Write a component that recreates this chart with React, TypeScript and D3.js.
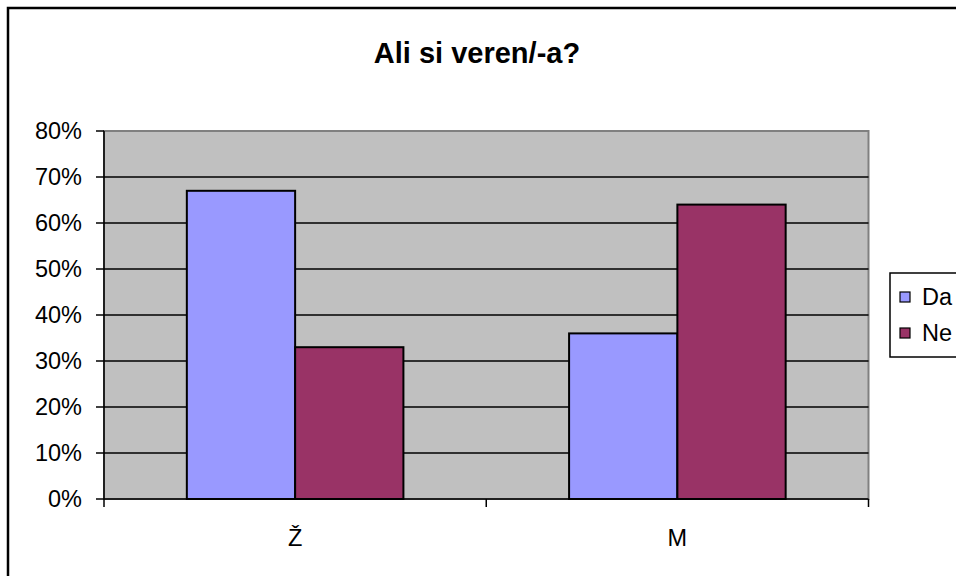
import React from "react";
import * as d3 from "d3";

const categories = ["Ž", "M"];
const seriesNames = ["Da", "Ne"];
const daValues = [0.67, 0.36];
const neValues = [0.33, 0.64];
const yTicks = [0, 0.1, 0.2, 0.3, 0.4, 0.5, 0.6, 0.7, 0.8];
const colors = ["#9999FF", "#993366"];
const title = "Ali si veren/-a?";

export default function App() {
  const W = 956, H = 576;
  const left = 104, right = 868.5, top = 131, bottom = 499;
  const y = d3.scaleLinear().domain([0, 0.8]).range([bottom, top]);
  const x0 = d3.scaleBand<string>().domain(categories).range([left, right]).padding(0);
  const x1 = d3.scaleBand<string>().domain(seriesNames).range([0, x0.bandwidth()]).paddingInner(0).paddingOuter(0.765);
  const seriesValues = [daValues, neValues];
  const fmt = d3.format(".0%");
  const font = "Liberation Sans, Arial, sans-serif";
  const fs = 23.5;
  return (
    <svg width={W} height={H} style={{ position: "absolute", left: 0, top: 0 }} fontFamily={font}>
      <rect x={0} y={0} width={W} height={H} fill="#fff" />
      <rect x={8} y={8} width={W + 10} height={H + 10} fill="none" stroke="#000" strokeWidth={2.5} />
      <text x={477} y={63} textAnchor="middle" fontSize={29} fontWeight="bold">{title}</text>
      <rect x={left} y={top} width={right - left} height={bottom - top} fill="#C0C0C0" stroke="#808080" strokeWidth={2} />
      {yTicks.map((t) => (
        <g key={t}>
          {t > 0 && t < 0.8 && <line x1={left} x2={right} y1={y(t)} y2={y(t)} stroke="#000" strokeWidth={1.5} />}
          <line x1={left - 8} x2={left} y1={y(t)} y2={y(t)} stroke="#000" strokeWidth={1.5} />
          <text x={82} y={y(t)} dy="0.36em" textAnchor="end" fontSize={fs}>{fmt(t)}</text>
        </g>
      ))}
      {categories.map((c, ci) =>
        seriesNames.map((s, si) => {
          const v = seriesValues[si][ci];
          return (
            <rect key={c + s} x={(x0(c) ?? 0) + (x1(s) ?? 0)} y={y(v)} width={x1.bandwidth()} height={bottom - y(v)}
              fill={colors[si]} stroke="#000" strokeWidth={2} />
          );
        })
      )}
      <line x1={left} x2={left} y1={top} y2={bottom} stroke="#000" strokeWidth={1.5} />
      <line x1={left} x2={right} y1={bottom} y2={bottom} stroke="#000" strokeWidth={1.5} />
      {[...categories.map((c) => x0(c) ?? 0), right].map((xv, i) => (
        <line key={i} x1={xv} x2={xv} y1={bottom} y2={bottom + 8} stroke="#000" strokeWidth={1.5} />
      ))}
      {categories.map((c) => (
        <text key={c} x={(x0(c) ?? 0) + x0.bandwidth() / 2} y={546} textAnchor="middle" fontSize={fs}>{c}</text>
      ))}
      <rect x={890} y={273} width={80} height={84} fill="#fff" stroke="#000" strokeWidth={1.5} />
      {seriesNames.map((s, i) => (
        <g key={s}>
          <rect x={900} y={292 + i * 36} width={10} height={10} fill={colors[i]} stroke="#000" strokeWidth={1.2} />
          <text x={922} y={297 + i * 36} dy="0.36em" fontSize={fs}>{s}</text>
        </g>
      ))}
    </svg>
  );
}
